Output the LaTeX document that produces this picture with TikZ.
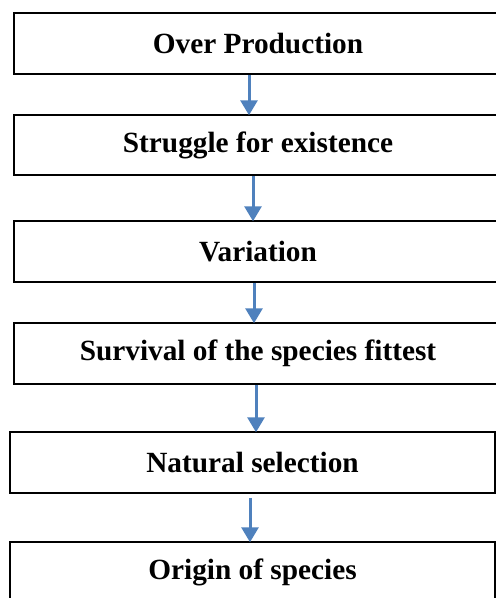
\documentclass[tikz,border=0pt]{standalone}
\usepackage{fontspec}
\setmainfont{Liberation Serif}
\usetikzlibrary{arrows.meta}
\definecolor{arrowblue}{RGB}{79,129,189}
\tikzset{
  stagebox/.style={draw=black, line width=1.5pt, fill=white, inner sep=0pt,
    minimum width=#1, minimum height=61pt, font=\fontsize{29.3}{32}\selectfont\bfseries},
  stagebox/.default=488pt,
  flowarrow/.style={draw=arrowblue, line width=3pt,
    -{Triangle[width=17pt,length=15pt]}, shorten >=-1pt}
}
\begin{document}
\begin{tikzpicture}[x=1pt,y=1pt]
\useasboundingbox (0,0) rectangle (496,-598);
\clip (0,0) rectangle (496,-598);
\node[stagebox] (b1) at (258,-43.5) {Over Production};
\node[stagebox, minimum height=60pt] (b2) at (258,-145) {Struggle for existence};
\node[stagebox] (b3) at (258,-251.5) {Variation};
\node[stagebox] (b4) at (258,-353.5) {Survival of the species fittest};
\node[stagebox=485pt] (b5) at (252.5,-462.5) {Natural selection};
\node[stagebox=485pt] (b6) at (252.5,-572.5) {Origin of species};
\draw[flowarrow] ([xshift=-9pt]b1.south) -- ([xshift=-9pt]b2.north);
\draw[flowarrow] ([xshift=-5pt]b2.south) -- ([xshift=-5pt]b3.north);
\draw[flowarrow] ([xshift=-4pt]b3.south) -- ([xshift=-4pt]b4.north);
\draw[flowarrow] ([xshift=-2pt]b4.south) -- ([xshift=3.5pt]b5.north);
\draw[flowarrow] ([xshift=-2.5pt,yshift=-4pt]b5.south) -- ([xshift=-2.5pt]b6.north);
\end{tikzpicture}
\end{document}
